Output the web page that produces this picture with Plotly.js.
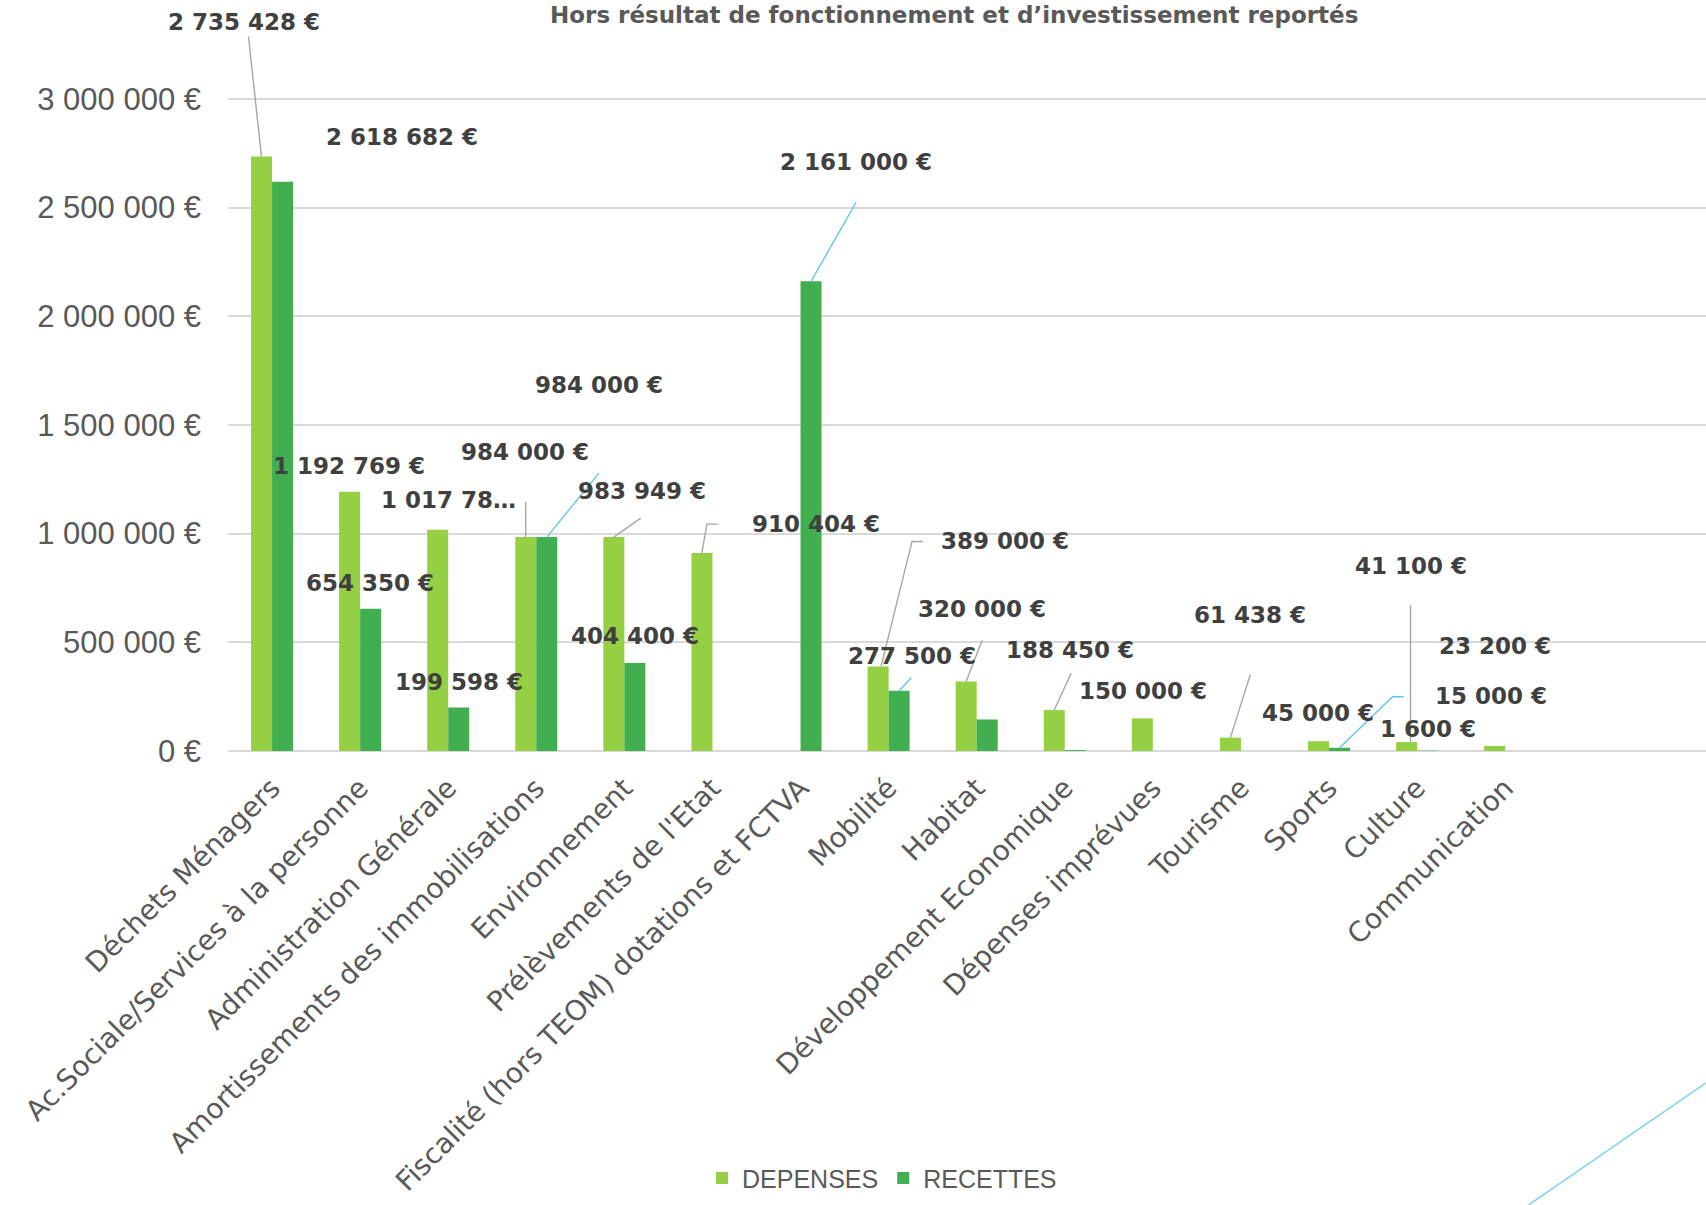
<!DOCTYPE html>
<html>
<head>
<meta charset="utf-8">
<script src="https://cdn.plot.ly/plotly-3.0.1.min.js"></script>
<style>html,body{margin:0;padding:0;background:#fff;}#chart{width:1706px;height:1205px;}</style>
</head>
<body>
<div id="chart"></div>
<script>
// ---- Data ----
const categories = [
  "Déchets Ménagers",
  "Ac.Sociale/Services à la personne",
  "Administration Générale",
  "Amortissements des immobilisations",
  "Environnement",
  "Prélèvements de l'Etat",
  "Fiscalité (hors TEOM) dotations et FCTVA",
  "Mobilité",
  "Habitat",
  "Développement Economique",
  "Dépenses imprévues",
  "Tourisme",
  "Sports",
  "Culture",
  "Communication"
];
const depenses = [2735428, 1192769, 1017785, 984000, 983949, 910404, null, 389000, 320000, 188450, 150000, 61438, 45000, 41100, 23200];
const recettes = [2618682, 654350, 199598, 984000, 404400, null, 2161000, 277500, 145000, 4000, null, null, 15000, 1600, null];
const depensesLabelShown = [1,1,1,1,1,1,0,1,1,1,1,1,1,1,1];
const recettesLabelShown = [1,1,1,1,1,0,1,1,0,0,0,0,1,1,0];
const depensesTruncated = [2];           // label cut by the source chart ("1 017 78…")
const yTickValues = [0, 500000, 1000000, 1500000, 2000000, 2500000, 3000000];
const seriesNames = ["DEPENSES", "RECETTES"];
const subtitle = "Hors résultat de fonctionnement et d’investissement reportés";

// ---- Layout helpers: label placement (px from bar top) and leader-line paths (px, y up) ----
const depOffsets = [[-17,-134],[-1,-26],[11,-30],[-1,-85],[28,-46],[114,-29],[0,0],[127,-125],[16,-72],[16,-60],[1,-27],[20,-123],[0,-28],[4,-176],[0,-100]];
const recOffsets = [[119,-45],[-1,-26],[0,-26],[52,-152],[0,-27],[0,0],[45,-119],[13,-35],[0,0],[0,0],[0,0],[0,0],[151,-52],[0,-22],[0,0]];
const depLeaders = {
  0:'M0,0 L-13,120', 3:'M0,0 L0,35', 4:'M0,0 L27,19', 5:'M0,0 L5,29 L16,29',
  7:'M3,0 L34,125 L45,125', 8:'M0,0 L16,41', 9:'M0,0 L17,37', 11:'M0,0 L20,63', 13:'M4,0 L4,137'
};
const recLeaders = {
  3:'M0,0 L52,64', 6:'M0,0 L45,79', 7:'M0,0 L12,13', 12:'M0,0 L53,51 L64,51'
};
const depLeaderColor = '#a6a6a6';
const recLeaderColor = '#5ec6ee';

const colDep = '#94cf44';
const colRec = '#41af50';

function fmt(v){
  return String(Math.round(v)).replace(/\B(?=(\d{3})+(?!\d))/g, ' ') + ' €';
}

const traces = [
  {type:'bar', name:seriesNames[0], x:categories, y:depenses, marker:{color:colDep}, hoverinfo:'none'},
  {type:'bar', name:seriesNames[1], x:categories, y:recettes, marker:{color:colRec}, hoverinfo:'none'}
];

const labelFont = {family:'DejaVu Sans, sans-serif', size:23, color:'#404040'};
const annotations = [];
const shapes = [];
function addLabels(vals, shown, offsets, leaders, leaderColor, xoff, trunc){
  vals.forEach((v,i)=>{
    if (v === null) return;
    if (leaders[i]) {
      shapes.push({type:'path', xref:'x', yref:'y', xsizemode:'pixel', ysizemode:'pixel',
        xanchor: i + xoff, yanchor: v, path: leaders[i], layer:'above',
        line:{color:leaderColor, width:1.4}});
    }
    if (!shown[i]) return;
    let t = fmt(v);
    if (trunc && trunc.indexOf(i) >= 0) t = t.slice(0, 8) + '…';
    annotations.push({
      x: i + xoff, y: v, xref:'x', yref:'y',
      text: '<b>' + t + '</b>', font: labelFont,
      showarrow: true, arrowhead: 0, arrowwidth: 0.1, arrowcolor: 'rgba(0,0,0,0)', standoff: 0,
      ax: offsets[i][0], ay: offsets[i][1]
    });
  });
}
addLabels(depenses, depensesLabelShown, depOffsets, depLeaders, depLeaderColor, -0.12, depensesTruncated);
addLabels(recettes, recettesLabelShown, recOffsets, recLeaders, recLeaderColor, 0.12, null);

annotations.push({
  xref:'paper', yref:'paper', x:0.491, y:0.9995, xanchor:'center', yanchor:'top',
  text:'<b>' + subtitle + '</b>', showarrow:false,
  font:{family:'DejaVu Sans, sans-serif', size:23, color:'#595959'}
});

shapes.push({type:'line', xref:'paper', yref:'paper', x0:1.0, y0:-0.442, x1:0.880, y1:-0.6045,
             line:{color:'#7fd3f2', width:1.5}});

const layout = {
  width:1706, height:1205,
  margin:{l:228, r:0, t:0, b:454},
  paper_bgcolor:'#ffffff', plot_bgcolor:'#ffffff',
  barmode:'group', bargap:0.523, bargroupgap:0,
  showlegend:true,
  legend:{orientation:'h', x:0.4425, y:-0.569, xanchor:'center', yanchor:'middle',
          font:{family:'Liberation Sans Narrow, Arial Narrow, Liberation Sans, sans-serif', size:25, color:'#595959'},
          traceorder:'normal'},
  xaxis:{type:'category', range:[-0.5, 16.28], tickangle:-45, showgrid:false, zeroline:false,
         showline:false, ticks:'', ticklabelstandoff:14,
         tickfont:{family:'DejaVu Sans, sans-serif', size:28, color:'#595959'}},
  yaxis:{range:[0, 3455000], tickvals:yTickValues, ticktext:yTickValues.map(fmt),
         showgrid:true, gridcolor:'#d9d9d9', gridwidth:2, zeroline:true, zerolinecolor:'#d9d9d9', zerolinewidth:2,
         showline:false, ticks:'', ticklabelstandoff:26,
         tickfont:{family:'Liberation Sans Narrow, Arial Narrow, Liberation Sans, sans-serif', size:31, color:'#595959'}},
  annotations: annotations,
  shapes: shapes
};

Plotly.newPlot('chart', traces, layout, {displayModeBar:false, staticPlot:true});
</script>
</body>
</html>
